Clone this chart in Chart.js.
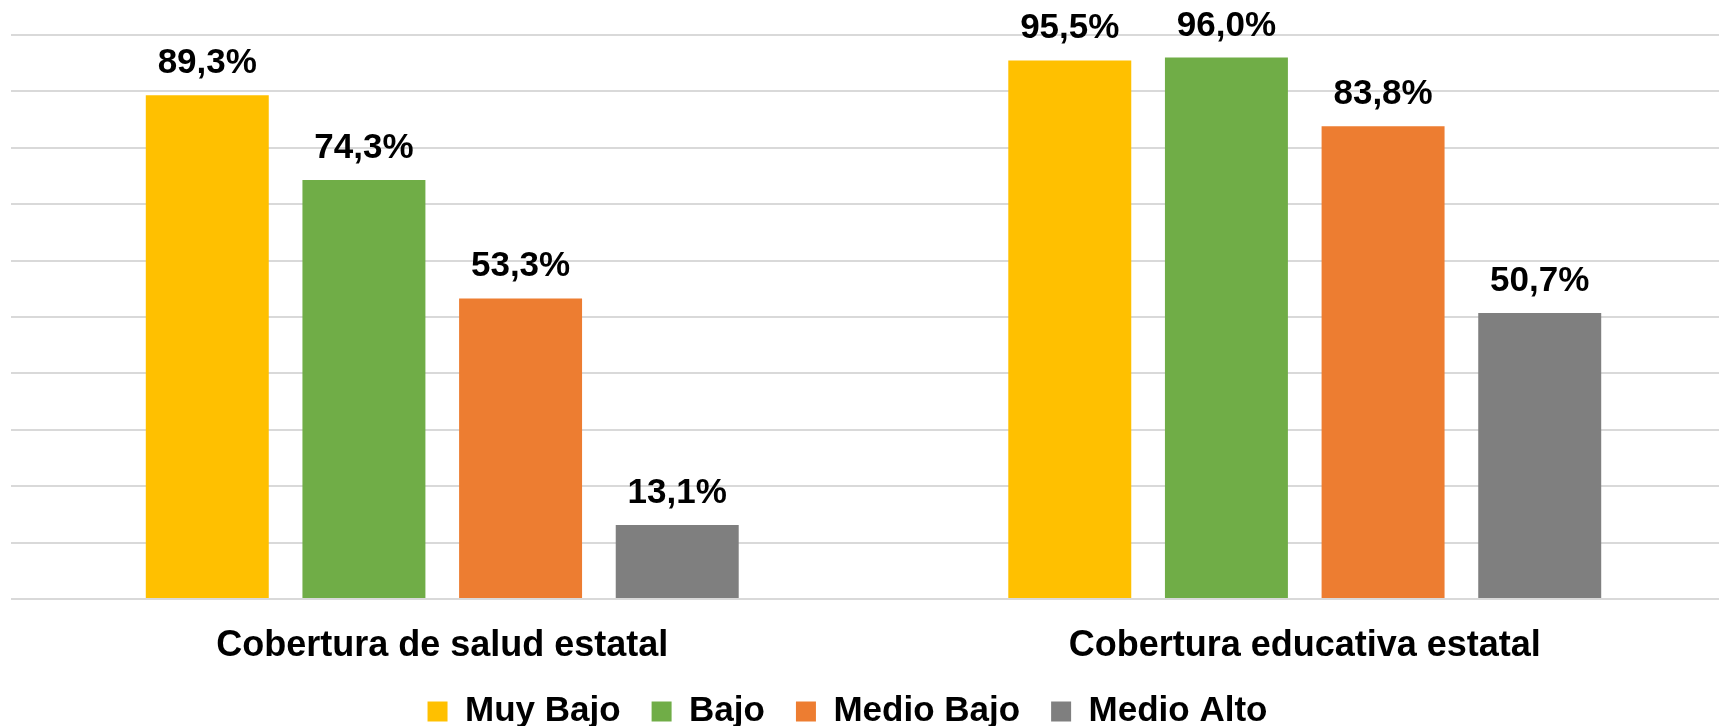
<!DOCTYPE html>
<html>
<head>
<meta charset="utf-8">
<script src="https://cdn.jsdelivr.net/npm/chart.js@4/dist/chart.umd.min.js"></script>
<style>
  html, body { margin: 0; padding: 0; overflow: hidden; background: #ffffff; }
  #wrap { position: absolute; left: 0; top: 0; width: 1736px; height: 739px; }
</style>
</head>
<body>
<div id="wrap"><canvas id="c"></canvas></div>
<script>
const categories = ['Cobertura de salud estatal', 'Cobertura educativa estatal'];
const seriesNames = ['Muy Bajo', 'Bajo', 'Medio Bajo', 'Medio Alto'];
const muyBajo = [89.3, 95.5];
const bajo = [74.3, 96.0];
const medioBajo = [53.3, 83.8];
const medioAlto = [13.1, 50.7];
const yMin = 0, yMax = 100, yStep = 10;

const seriesValues = [muyBajo, bajo, medioBajo, medioAlto];
const seriesColors = ['#FFC000', '#70AD47', '#ED7D31', '#7F7F7F'];
const FONT = "'Liberation Sans', Arial, sans-serif";

const valueLabels = {
  id: 'valueLabels',
  afterDatasetsDraw(chart) {
    const ctx = chart.ctx;
    ctx.save();
    ctx.font = 'bold 35px ' + FONT;
    ctx.fillStyle = '#000000';
    ctx.textAlign = 'center';
    ctx.textBaseline = 'alphabetic';
    chart.data.datasets.forEach((ds, di) => {
      const meta = chart.getDatasetMeta(di);
      meta.data.forEach((bar, i) => {
        const v = ds.data[i];
        const txt = v.toFixed(1).replace('.', ',') + '%';
        ctx.fillText(txt, bar.x, bar.y - 22);
      });
    });
    ctx.restore();
  }
};

const legendShift = {
  id: 'legendShift',
  afterLayout(chart) {
    const lg = chart.legend;
    if (lg) { lg.left -= 26; lg.right -= 26; }
  }
};

new Chart(document.getElementById('c'), {
  type: 'bar',
  data: {
    labels: categories,
    datasets: seriesNames.map((n, k) => ({
      label: n,
      data: seriesValues[k],
      backgroundColor: seriesColors[k],
      borderWidth: 0,
      categoryPercentage: 0.7265,
      barPercentage: 0.785
    }))
  },
  options: {
    responsive: true,
    maintainAspectRatio: false,
    animation: false,
    layout: { padding: { left: 11, top: 35, right: 0, bottom: 0 } },
    scales: {
      x: {
        grid: { display: true, color: 'rgba(0,0,0,0)', tickColor: 'rgba(0,0,0,0)', drawTicks: true, tickLength: 30 },
        border: { display: false },
        ticks: {
          color: '#000000',
          padding: 9,
          maxRotation: 0,
          font: { family: FONT, size: 36, weight: 'bold', lineHeight: '16px' }
        }
      },
      y: {
        min: yMin,
        max: yMax,
        ticks: { display: false, stepSize: yStep },
        grid: { color: '#D9D9D9', lineWidth: 2, drawTicks: false },
        border: { display: false }
      }
    },
    plugins: {
      tooltip: { enabled: false },
      legend: {
        position: 'bottom',
        labels: {
          color: '#000000',
          boxWidth: 20,
          boxHeight: 20,
          padding: 31,
          font: { family: FONT, size: 35, weight: 'bold' }
        }
      }
    }
  },
  plugins: [valueLabels, legendShift]
});
</script>
</body>
</html>
